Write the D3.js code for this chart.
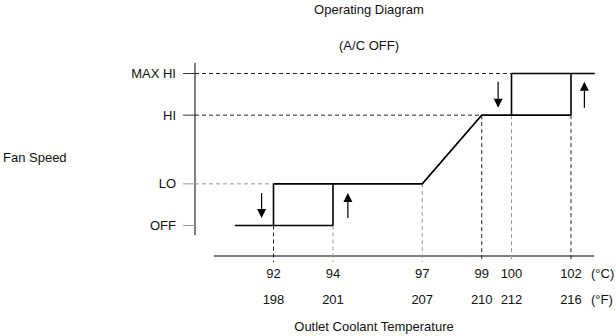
<!DOCTYPE html>
<html><head><meta charset="utf-8">
<script src="https://cdn.jsdelivr.net/npm/d3@7"></script>
<style>
html,body{margin:0;padding:0;background:#fff;}
text{font-family:"Liberation Sans",Arial,sans-serif;font-size:13px;fill:#111;}
</style></head>
<body><svg id="c" width="616" height="336"></svg>
<script>
// ---- data ----
const tempsC = [92, 94, 97, 99, 100, 102];
const tempsF = [198, 201, 207, 210, 212, 216];
const guideFrom = ["OFF", "OFF", "LO", "HI", "HI", "HI"];
const levelNames = ["OFF", "LO", "HI", "MAX HI"];
const levelValues = [0, 1, 2.65, 3.65];
// operating curve segments: [tempC, level]
const segOff = [[90.7, "OFF"], [94, "OFF"]];
const segMain = [[92, "LO"], [97, "LO"], [99, "HI"], [102, "HI"]];
const segMax = [[100, "MAX HI"], [102.8, "MAX HI"]];
const verticals = [[92, "OFF", "LO"], [94, "OFF", "LO"], [100, "HI", "MAX HI"], [102, "HI", "MAX HI"]];
// arrows: [tempC, fromLevelValue, toLevelValue]
const arrows = [[91.6, 0.78, 0.18], [94.5, 0.18, 0.78], [99.55, 3.45, 2.83], [102.45, 2.83, 3.45]];
const levelDash = [["MAX HI", 100], ["HI", 99], ["LO", 92]];

const svg = d3.select("#c");
const x = d3.scaleLinear().domain([92, 102]).range([273.5, 571]);
const lv = d3.scaleOrdinal().domain(levelNames).range(levelValues);
const y = d3.scaleLinear().domain([0, 3.65]).range([225.5, 73.5]);
const Y = n => y(lv(n));
const axisX = 195, baseY = 256;

// titles
svg.append("text").attr("x", 369).attr("y", 14).attr("text-anchor", "middle").text("Operating Diagram");
svg.append("text").attr("x", 369).attr("y", 50).attr("text-anchor", "middle").text("(A/C OFF)");
svg.append("text").attr("x", 3).attr("y", 162).text("Fan Speed");
svg.append("text").attr("x", 374).attr("y", 331).attr("text-anchor", "middle").text("Outlet Coolant Temperature");

// y axis
svg.append("line").attr("x1", axisX).attr("x2", axisX).attr("y1", 63).attr("y2", 235)
  .attr("stroke", "#000").attr("stroke-width", 1);
levelNames.forEach(n => {
  const dark = (n === "MAX HI" || n === "HI");
  svg.append("line").attr("x1", 183).attr("x2", axisX).attr("y1", Y(n)).attr("y2", Y(n))
    .attr("stroke", dark ? "#333" : "#999").attr("stroke-width", 1);
  svg.append("text").attr("x", 176).attr("y", Y(n) + 4.5).attr("text-anchor", "end").text(n);
});
levelDash.forEach(([n, t]) => {
  svg.append("line").attr("x1", axisX).attr("x2", x(t)).attr("y1", Y(n)).attr("y2", Y(n))
    .attr("stroke", n === "LO" ? "#999" : "#222").attr("stroke-width", 1).attr("stroke-dasharray", "4,3");
});

// x axis
svg.append("line").attr("x1", x(90)).attr("x2", x(102.77)).attr("y1", baseY).attr("y2", baseY)
  .attr("stroke", "#000").attr("stroke-width", 1);
const guideColor = ["#222", "#999", "#999", "#222", "#999", "#222"];
tempsC.forEach((t, i) => {
  svg.append("line").attr("x1", x(t)).attr("x2", x(t)).attr("y1", Y(guideFrom[i])).attr("y2", baseY + 6)
    .attr("stroke", guideColor[i]).attr("stroke-width", 1).attr("stroke-dasharray", "4,3");
  svg.append("text").attr("x", x(t)).attr("y", 278).attr("text-anchor", "middle").text(tempsC[i]);
  svg.append("text").attr("x", x(t)).attr("y", 304).attr("text-anchor", "middle").text(tempsF[i]);
});
svg.append("text").attr("x", 591).attr("y", 278).text("(°C)");
svg.append("text").attr("x", 591).attr("y", 304).text("(°F)");

// operating curve
const line = d3.line().x(d => x(d[0])).y(d => Y(d[1]));
[segOff, segMain, segMax].forEach(s => {
  svg.append("path").attr("d", line(s)).attr("fill", "none").attr("stroke", "#000").attr("stroke-width", 1.6);
});
verticals.forEach(([t, a, b]) => {
  svg.append("line").attr("x1", x(t)).attr("x2", x(t)).attr("y1", Y(a)).attr("y2", Y(b))
    .attr("stroke", "#000").attr("stroke-width", 1.6);
});

// arrows
arrows.forEach(([t, a, b]) => {
  const xa = x(t), ya = y(a), yb = y(b);
  const dir = yb > ya ? 1 : -1;
  const headLen = 9, headW = 4.5;
  svg.append("line").attr("x1", xa).attr("x2", xa).attr("y1", ya).attr("y2", yb - dir * headLen)
    .attr("stroke", "#000").attr("stroke-width", 1.2);
  svg.append("path").attr("d", `M${xa - headW},${yb - dir * headLen}L${xa + headW},${yb - dir * headLen}L${xa},${yb}Z`)
    .attr("fill", "#000");
});
</script></body></html>
